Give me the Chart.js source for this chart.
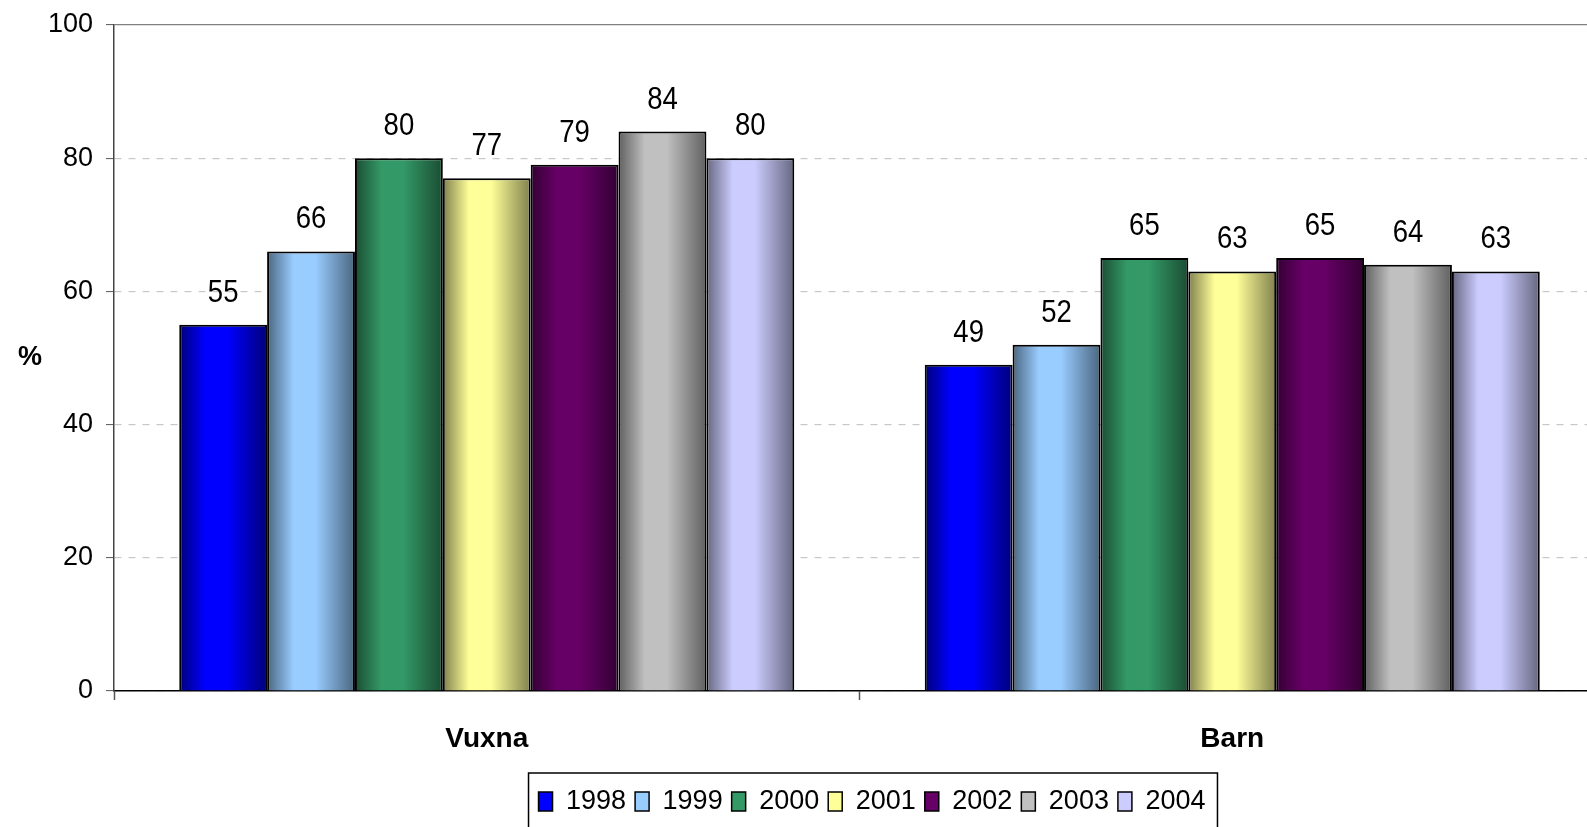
<!DOCTYPE html>
<html>
<head>
<meta charset="utf-8">
<script src="https://cdn.jsdelivr.net/npm/chart.js@4"></script>
<style>
  html, body { margin: 0; padding: 0; background: #fff; overflow: hidden; }
  /* the original plot runs past the right edge of the picture */
  #wrap { width: 1605px; height: 827px; }
  canvas { display: block; }
</style>
</head>
<body>
<div id="wrap"><canvas id="chart"></canvas></div>
<script>
const categories = ['Vuxna', 'Barn'];
const years = ['1998', '1999', '2000', '2001', '2002', '2003', '2004'];
const vuxnaValues = [55, 66, 80, 77, 79, 84, 80];
const barnValues = [49, 52, 65, 63, 65, 64, 63];
const yTicks = [0, 20, 40, 60, 80, 100];

const lightColors = ['#0000ff', '#99ccff', '#339966', '#ffff99', '#660066', '#c0c0c0', '#ccccff'];
const darkColors = ['#00007a', '#4a6680', '#1a4d33', '#80804d', '#330033', '#606060', '#666680'];

const CAT_PCT = 0.825;
const FONT = '"Liberation Sans", Arial, sans-serif';

function barFill(ctx) {
    const ds = ctx.datasetIndex;
    if (ctx.type !== 'data') return lightColors[ds];
    const chart = ctx.chart;
    const xs = chart.scales.x;
    if (!xs || !chart.chartArea) return lightColors[ds];
    const catW = xs.width / categories.length;
    const barW = catW * CAT_PCT / years.length;
    const left = xs.getPixelForValue(ctx.dataIndex) - catW * CAT_PCT / 2 + ds * barW;
    const g = chart.ctx.createLinearGradient(left, 0, left + barW, 0);
    g.addColorStop(0, darkColors[ds]);
    g.addColorStop(0.3, lightColors[ds]);
    g.addColorStop(0.55, lightColors[ds]);
    g.addColorStop(1, darkColors[ds]);
    return g;
}

const datasets = years.map((y, i) => ({
    label: y,
    data: [vuxnaValues[i], barnValues[i]],
    backgroundColor: barFill,
    borderColor: '#000',
    borderWidth: 2,
    borderSkipped: 'bottom',
    categoryPercentage: CAT_PCT,
    barPercentage: 1
}));

const valueLabels = {
    id: 'valueLabels',
    afterDatasetsDraw(chart) {
        const ctx = chart.ctx;
        ctx.fillStyle = '#000';
        chart.data.datasets.forEach((ds, i) => {
            chart.getDatasetMeta(i).data.forEach((bar, j) => {
                // condensed figures, as in the original
                ctx.save();
                ctx.font = '32px ' + FONT;
                ctx.textAlign = 'center';
                ctx.textBaseline = 'alphabetic';
                ctx.translate(bar.x, bar.y - 23);
                ctx.scale(0.86, 1);
                ctx.fillText(ds.data[j], 0, 0);
                ctx.restore();
            });
        });
    }
};

const extras = {
    id: 'extras',
    afterLayout(chart) {
        // the legend sits right of the page centre in the original
        const lg = chart.legend;
        const w = lg.right - lg.left;
        lg.left = 872 - w / 2;
        lg.right = lg.left + w;
    },
    afterDraw(chart) {
        const ctx = chart.ctx;
        const area = chart.chartArea;
        ctx.save();
        ctx.font = 'bold 27px ' + FONT;
        ctx.fillStyle = '#000';
        ctx.textAlign = 'center';
        ctx.textBaseline = 'middle';
        ctx.fillText('%', 30, (area.top + area.bottom) / 2);
        // legend frame, open at the bottom where the image is cut off
        const boxes = chart.legend.legendHitBoxes;
        if (boxes && boxes.length) {
            const first = boxes[0];
            const last = boxes[boxes.length - 1];
            const l = first.left - 10;
            const r = last.left + last.width + 12;
            const t = chart.legend.top - 6;
            ctx.strokeStyle = '#000';
            ctx.lineWidth = 1.5;
            ctx.beginPath();
            ctx.moveTo(l, 830);
            ctx.lineTo(l, t);
            ctx.lineTo(r, t);
            ctx.lineTo(r, 830);
            ctx.stroke();
        }
        ctx.restore();
    }
};

new Chart(document.getElementById('chart'), {
    type: 'bar',
    data: { labels: categories, datasets: datasets },
    options: {
        responsive: true,
        maintainAspectRatio: false,
        animation: false,
        layout: { padding: { top: 25, right: 0, bottom: 2, left: 0 } },
        plugins: {
            legend: {
                position: 'bottom',
                labels: {
                    font: { family: FONT, size: 27 },
                    color: '#000',
                    boxWidth: 14,
                    boxHeight: 19,
                    padding: 9,
                    generateLabels(chart) {
                        return chart.data.datasets.map((ds, i) => ({
                            text: ds.label,
                            fillStyle: lightColors[i],
                            strokeStyle: '#000',
                            lineWidth: 1.5,
                            datasetIndex: i
                        }));
                    }
                }
            },
            tooltip: { enabled: false }
        },
        scales: {
            x: {
                grid: {
                    offset: true,
                    drawOnChartArea: false,
                    drawTicks: true,
                    tickLength: 9,
                    tickColor: '#555',
                    tickWidth: 1.5
                },
                border: { display: true, color: '#000', width: 1.5 },
                ticks: {
                    font: { family: FONT, size: 28, weight: 'bold' },
                    color: '#000',
                    padding: 22
                },
                afterFit(scale) { scale.height = 88; }
            },
            y: {
                min: 0,
                max: 100,
                afterBuildTicks(scale) { scale.ticks = yTicks.map(v => ({ value: v })); },
                grid: {
                    color: ctx => (ctx.tick && ctx.tick.value === 100) ? '#808080' : '#c8c8c8',
                    lineWidth: 1.2,
                    tickLength: 8,
                    tickColor: '#555',
                    tickWidth: 1
                },
                border: {
                    display: true,
                    color: '#444',
                    width: 1.5,
                    dash: ctx => (ctx.tick && ctx.tick.value !== 100) ? [7, 7] : []
                },
                ticks: {
                    font: { family: FONT, size: 27 },
                    color: '#000',
                    padding: 13
                },
                afterFit(scale) {
                    scale.width = 114;
                    scale.paddingTop = 0;
                    scale.paddingBottom = 0;
                }
            }
        }
    },
    plugins: [valueLabels, extras]
});
</script>
</body>
</html>
